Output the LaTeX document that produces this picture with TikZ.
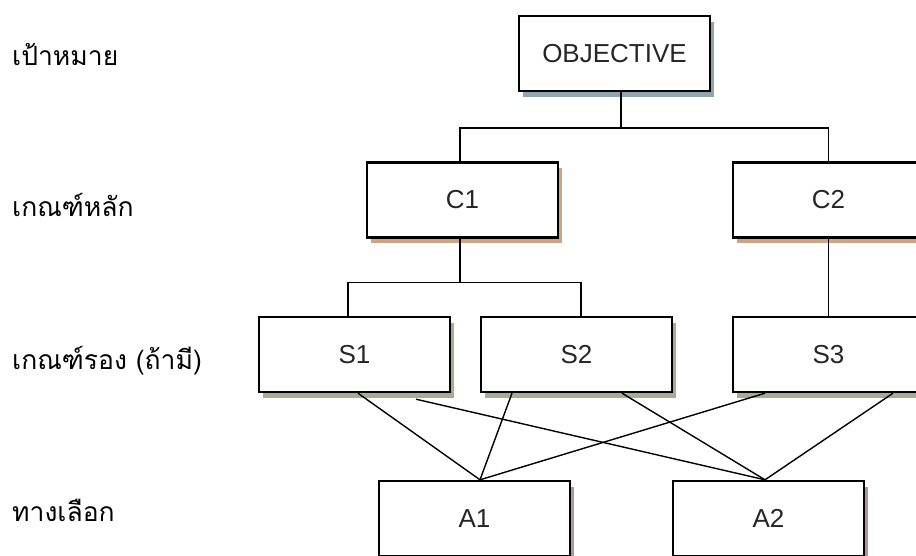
\documentclass[tikz,border=0pt]{standalone}
\usepackage{fontspec}
\setmainfont{Liberation Sans}
\newfontfamily\thaifont[Script=Thai]{Loma}
\usetikzlibrary{shadows}
\definecolor{objshade}{HTML}{8EA7AE}
\definecolor{cshade}{HTML}{D1A283}
\definecolor{sshade}{HTML}{A4AE92}
\definecolor{ashade}{HTML}{B49494}

\begin{document}
\begin{tikzpicture}[x=1pt,y=-1pt,
    box/.style={draw,line width=2.4pt,fill=white,minimum width=191pt,minimum height=75pt,
      inner sep=0pt,font=\fontsize{26}{30}\selectfont,text=black!85},
    shade/.style={general shadow={fill=#1,shadow xshift=3.5pt,shadow yshift=-6pt}},
    level/.style={anchor=west,inner sep=0pt,font=\thaifont\fontsize{26.5}{30}\selectfont},
    link/.style={line width=1.4pt}]
  \useasboundingbox (0,0) rectangle (916,556);
  \clip (0,0) rectangle (916,556);
  \node[level] (goal) at (12,55) {เป้าหมาย};
  \node[level] (crit) at (12,205) {เกณฑ์หลัก};
  \node[level] (sub) at (12,361) {เกณฑ์รอง (ถ้ามี)};
  \node[level] (alt) at (12,510) {ทางเลือก};
  \node[box,shade=objshade] (obj) at (614.5,53.5) {OBJECTIVE};
  \node[box,shade=cshade] (c1) at (462.5,200) {C1};
  \node[box,shade=cshade] (c2) at (828.5,200) {C2};
  \node[box,shade=sshade] (s1) at (354.5,354.5) {S1};
  \node[box,shade=sshade] (s2) at (576.5,354.5) {S2};
  \node[box,shade=sshade] (s3) at (828.5,354.5) {S3};
  \node[box,shade=ashade] (a1) at (474.5,518.5) {A1};
  \node[box,shade=ashade] (a2) at (768.5,518.5) {A2};
  \draw[link] ([shift={(6.5,0)}]obj.south) -- ++(0,36) coordinate (fork);
  \draw[link] ([shift={(-2.5,0)}]c1.north) |- (fork) -| (c2.north);
  \draw[link] ([shift={(-2.5,0)}]c1.south) -- ++(0,44) coordinate (split);
  \draw[link] ([shift={(-6.5,0)}]s1.north) |- (split) -| ([shift={(4.5,0)}]s2.north);
  \draw[link] (c2.south) -- (s3.north);
  \draw[link] ([shift={(3.5,0)}]s1.south) -- ([shift={(5.5,0)}]a1.north);
  \draw[link] ([shift={(61.5,6)}]s1.south) -- ([shift={(-3.5,0)}]a2.north);
  \draw[link] ([shift={(-64.5,0)}]s2.south) -- ([shift={(5.5,0)}]a1.north);
  \draw[link] ([shift={(45.5,0)}]s2.south) -- ([shift={(-3.5,0)}]a2.north);
  \draw[link] ([shift={(-63.5,0)}]s3.south) -- ([shift={(5.5,0)}]a1.north);
  \draw[link] ([shift={(64.5,0)}]s3.south) -- ([shift={(-3.5,0)}]a2.north);
\end{tikzpicture}
\end{document}
